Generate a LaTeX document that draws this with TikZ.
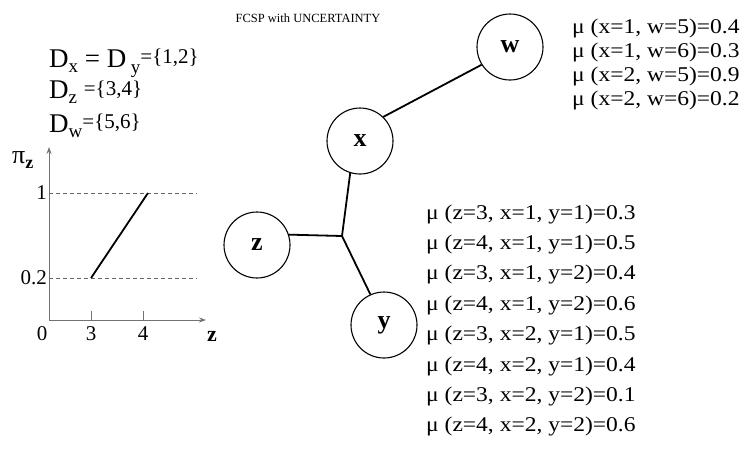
\documentclass[tikz,border=0pt]{standalone}
\usepackage{fontspec}
\setmainfont{Liberation Serif}
\newfontfamily\widefont[FakeStretch=1.12]{Liberation Serif}
\usetikzlibrary{arrows.meta}
\begin{document}
\begin{tikzpicture}[x=1pt,y=-1pt,
  var/.style={draw,circle,minimum size=66pt,inner sep=0pt,line width=1.1pt,font=\fontsize{26}{26}\selectfont\bfseries},
  edge/.style={line width=1.8pt},
  mu/.style={anchor=base west,inner sep=0pt,font=\widefont\fontsize{21}{21}\selectfont},
  axisline/.style={draw=black!55, line width=1pt},
  guide/.style={draw=black!60,line width=0.6pt,dash pattern=on 4pt off 3pt},
  lbl/.style={inner sep=0pt,font=\fontsize{21}{21}\selectfont},
  dom/.style={anchor=base west,inner sep=0pt,font=\fontsize{27}{27}\selectfont}]
\useasboundingbox (0,0) rectangle (744,448);

% title
\node[inner sep=0pt,font=\fontsize{12.5}{12.5}\selectfont] (title) at (308,18) {FCSP with UNCERTAINTY};

% domains
\node[dom] (d1) at (49,67) {D\raisebox{-5pt}{\fontsize{19}{19}\selectfont x} = D\,\raisebox{-6pt}{\fontsize{19}{19}\selectfont y}\raisebox{4pt}{\fontsize{21}{21}\selectfont =\{1,2\}}};
\node[dom] (d2) at (49,98) {D\raisebox{-5pt}{\fontsize{19}{19}\selectfont z} \raisebox{3pt}{\fontsize{21}{21}\selectfont =\{3,4\}}};
\node[dom] (d3) at (49,132) {D\raisebox{-5pt}{\fontsize{19}{19}\selectfont w}\raisebox{4pt}{\fontsize{21}{21}\selectfont =\{5,6\}}};

% graph
\node[var] (w) at (510,47) {w};
\node[var] (x) at (360,141) {x};
\node[var] (z) at (257,245) {z};
\node[var] (y) at (384,325) {y};
\coordinate (j) at (342,236);
\draw[edge] (w.-148) -- (x.46);
\draw[edge] (x.-107) -- (j) -- (y.114);
\draw[edge] (z.18) -- (j);

% mu tables
\foreach \t [count=\i from 0] in {{(x=1, w=5)=0.4},{(x=1, w=6)=0.3},{(x=2, w=5)=0.9},{(x=2, w=6)=0.2}}
  \node[mu] (mw\i) at (572,33+24*\i) {μ \t};
\foreach \t [count=\i from 0] in {{(z=3, x=1, y=1)=0.3},{(z=4, x=1, y=1)=0.5},{(z=3, x=1, y=2)=0.4},{(z=4, x=1, y=2)=0.6},{(z=3, x=2, y=1)=0.5},{(z=4, x=2, y=1)=0.4},{(z=3, x=2, y=2)=0.1},{(z=4, x=2, y=2)=0.6}}
  \node[mu] (mz\i) at (426,219+30.4*\i) {μ \t};

% possibility plot
\coordinate (o) at (49,320);
\coordinate (ytop) at (49,147);
\coordinate (xend) at (206,320);
\draw[axisline,-{Stealth[length=7pt,width=5pt]}] (o) -- (ytop);
\draw[axisline,-{Stealth[length=7pt,width=5pt]}] (o) -- (xend);
\draw[axisline] (91,311) -- (91,320);
\draw[axisline] (143,311) -- (143,320);
\draw[guide] (49,193) -- (197,193);
\draw[guide] (49,278) -- (197,278);
\draw[line width=1.8pt] (91,278) -- (148,193);
\node[lbl,anchor=east] (l1) at (47,193) {1};
\node[lbl,anchor=east] (l02) at (47,278) {0.2};
\node[lbl] (l0) at (42,334) {0};
\node[lbl] (l3) at (91,334) {3};
\node[lbl] (l4) at (143,334) {4};
\node[lbl,font=\fontsize{22}{22}\selectfont\bfseries] (lz) at (212,336) {z};
\node[inner sep=0pt,anchor=base west] (pi) at (12,163) {\fontsize{26}{26}\selectfont π\raisebox{-5pt}{\fontsize{18}{18}\selectfont\bfseries z}};
\end{tikzpicture}
\end{document}
